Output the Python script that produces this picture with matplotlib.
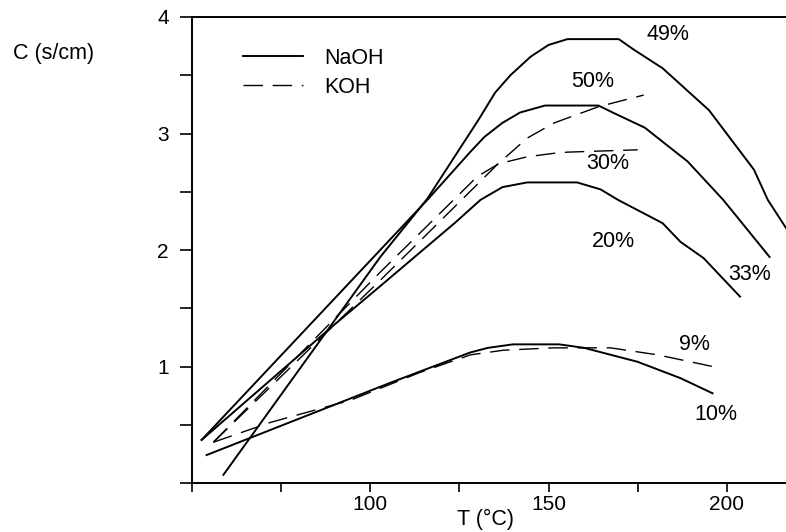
import matplotlib
matplotlib.use("Agg")
import matplotlib.pyplot as plt
from matplotlib.ticker import FixedLocator

plt.rcParams['font.family'] = ['Liberation Sans', 'DejaVu Sans']

# --- data (T in degC, C in S/cm) ---
naoh_49_t = [58.8, 102.8, 116, 130.4, 135, 139.3, 145, 150, 155.3, 169.7, 173.9, 182, 195, 207.6, 211.5, 217]
naoh_49_c = [0.07, 1.94, 2.44, 3.12, 3.35, 3.50, 3.66, 3.76, 3.81, 3.81, 3.72, 3.56, 3.20, 2.69, 2.43, 2.17]

naoh_33_t = [52.7, 116, 128, 132, 137, 142, 149, 164, 168, 177, 189, 199, 212]
naoh_33_c = [0.37, 2.43, 2.84, 2.97, 3.09, 3.18, 3.24, 3.24, 3.18, 3.05, 2.76, 2.43, 1.94]

naoh_20_t = [52.7, 88.8, 102.8, 124, 130.9, 137.1, 144, 158, 164.6, 169.5, 182, 187, 193.5, 203.7]
naoh_20_c = [0.37, 1.33, 1.69, 2.24, 2.43, 2.54, 2.58, 2.58, 2.52, 2.43, 2.23, 2.07, 1.93, 1.60]

naoh_10_t = [54.1, 105.6, 128, 133, 140, 153, 160, 175, 187, 196]
naoh_10_c = [0.24, 0.86, 1.12, 1.16, 1.19, 1.19, 1.16, 1.04, 0.90, 0.77]

koh_30_t = [56, 102.8, 130, 136, 144, 151.5, 155.3, 175]
koh_30_c = [0.35, 1.81, 2.63, 2.74, 2.80, 2.83, 2.84, 2.86]

koh_50_t = [56, 102.8, 130.9, 135.5, 140.3, 144, 151.5, 164, 176.7]
koh_50_c = [0.35, 1.74, 2.59, 2.73, 2.86, 2.96, 3.09, 3.23, 3.33]

koh_9_t = [56, 72, 94.4, 114, 128.1, 137.4, 151.4, 167.4, 180.6, 196]
koh_9_c = [0.35, 0.52, 0.71, 0.95, 1.10, 1.14, 1.16, 1.16, 1.10, 1.00]

labels = ['49%', '50%', '30%', '20%', '33%', '9%', '10%']
label_t = [183.4, 162.4, 166.6, 168.3, 206.5, 191.0, 196.9]
label_c = [3.85, 3.45, 2.74, 2.07, 1.79, 1.19, 0.59]

fig = plt.figure(figsize=(7.86, 5.32), dpi=100)
ax = fig.add_axes([192 / 786, 49 / 532, 594 / 786, 466 / 532])

solid = dict(color='black', lw=1.4, solid_joinstyle='miter')
dashed = dict(color='black', lw=1.0, dashes=(14, 7))

ax.plot(naoh_49_t, naoh_49_c, label='NaOH', **solid)
ax.plot(naoh_33_t, naoh_33_c, **solid)
ax.plot(naoh_20_t, naoh_20_c, **solid)
ax.plot(naoh_10_t, naoh_10_c, **solid)
ax.plot(koh_30_t, koh_30_c, label='KOH', **dashed)
ax.plot(koh_50_t, koh_50_c, **dashed)
ax.plot(koh_9_t, koh_9_c, **dashed)

for txt, t, c in zip(labels, label_t, label_c):
    ax.text(t, c, txt, fontsize=15.5, ha='center', va='center')

ax.set_xlim(50, 216.6)
ax.set_ylim(0, 4)
ax.spines['right'].set_visible(False)
for s in ['left', 'bottom', 'top']:
    ax.spines[s].set_linewidth(1.4)

ax.xaxis.set_major_locator(FixedLocator([100, 150, 200]))
ax.xaxis.set_minor_locator(FixedLocator([50, 75, 125, 175]))
ax.yaxis.set_major_locator(FixedLocator([1, 2, 3, 4]))
ax.yaxis.set_minor_locator(FixedLocator([0, 0.5, 1.5, 2.5, 3.5]))
ax.tick_params(axis='x', which='both', direction='out', length=6.5, width=1.2,
               labelsize=15, pad=2)
ax.tick_params(axis='y', which='both', direction='out', length=8.6, width=1.2,
               labelsize=15, pad=8)

fig.text(54 / 786, 1 - 53 / 532, 'C (s/cm)', fontsize=15.5, ha='center', va='center')
fig.text(485 / 786, 1 - 519 / 532, 'T (°C)', fontsize=15.5, ha='center', va='center')

ax.legend(loc='upper left', bbox_to_anchor=(0.053, 0.975), frameon=False,
          fontsize=15.5, handlelength=2.8, handletextpad=1.0, labelspacing=0.35)

fig.savefig('out.png', dpi=100)
